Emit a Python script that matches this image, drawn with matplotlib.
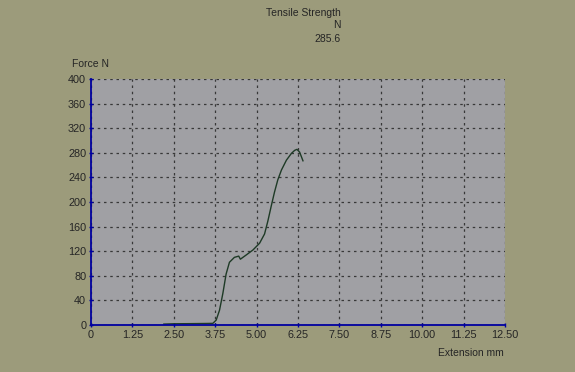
import matplotlib
matplotlib.use("Agg")
import matplotlib.pyplot as plt

# extension (mm) vs force (N)
ext = [2.20, 2.50, 3.00, 3.50, 3.68, 3.78, 3.88, 3.98, 4.08, 4.18, 4.33, 4.46, 4.51,
       4.69, 4.89, 5.09, 5.24, 5.34, 5.44, 5.54, 5.64, 5.75, 5.90, 6.05, 6.15, 6.22, 6.30, 6.40]
force = [1.5, 2.0, 2.2, 2.5, 2.7, 8, 24, 51, 83, 102, 110, 112, 107,
         114, 122, 133, 148, 169, 193, 216, 236, 252, 268, 279, 284, 285.6, 281, 267]

xticks = [0, 1.25, 2.5, 3.75, 5.0, 6.25, 7.5, 8.75, 10.0, 11.25, 12.5]
xlabels = ["0", "1.25", "2.50", "3.75", "5.00", "6.25", "7.50", "8.75", "10.00", "11.25", "12.50"]
yticks = list(range(0, 401, 40))

bg = "#9c9b7b"
txt = "#252525"
plt.rcParams['font.family'] = ['Liberation Sans', 'DejaVu Sans']

fig = plt.figure(figsize=(5.75, 3.72), dpi=100, facecolor=bg)
ax = fig.add_axes([91/575, 47/372, 414/575, 246/372])
ax.set_facecolor("#a0a0a4")

ax.plot(ext, force, color="#1e3a26", lw=1.0)

ax.set_xlim(0, 12.5)
ax.set_ylim(0, 400)
ax.set_xticks(xticks)
ax.set_xticklabels(xlabels)
ax.set_yticks(yticks)
ax.grid(True, color="#383838", ls=(0, (2, 3)), lw=0.9)
ax.tick_params(colors="#0000a0", labelcolor=txt, labelsize=7.8, length=3, width=1,
               direction="inout", pad=2)

for s in ["top", "right"]:
    ax.spines[s].set_visible(False)
for s in ["left", "bottom"]:
    ax.spines[s].set_color("#0000a0")
    ax.spines[s].set_linewidth(1.3)
ax.set_axisbelow(True)

fig.text(341/575, 1 - 13/372, "Tensile Strength", ha="right", va="center", fontsize=7.5, color=txt)
fig.text(341/575, 1 - 25/372, "N", ha="right", va="center", fontsize=7.5, color=txt)
fig.text(341/575, 1 - 39/372, "285.6", ha="right", va="center", fontsize=7.5, color=txt)
fig.text(72/575, 1 - 64/372, "Force N", ha="left", va="center", fontsize=7.5, color=txt)
fig.text(504/575, 1 - 353/372, "Extension mm", ha="right", va="center", fontsize=7.5, color=txt)

fig.savefig("out.png", dpi=100, facecolor=bg)
